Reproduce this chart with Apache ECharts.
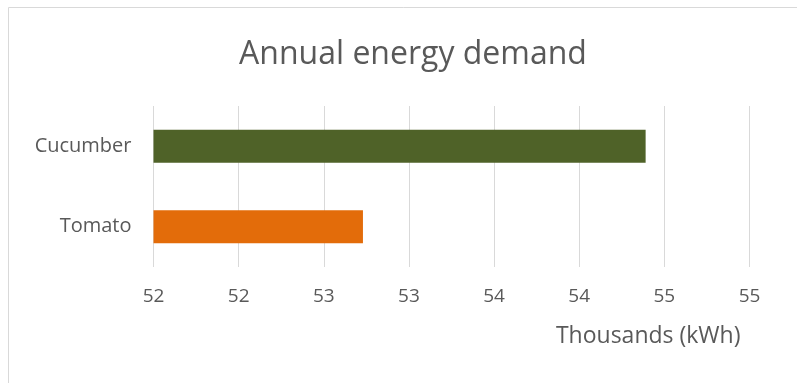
<!DOCTYPE html>
<html>
<head>
<meta charset="utf-8">
<script src="https://cdn.jsdelivr.net/npm/echarts@6/dist/echarts.min.js"></script>
<style>
  html, body { margin: 0; padding: 0; background: #fff; }
  #chart { width: 797px; height: 383px; }
</style>
</head>
<body>
<div id="chart"></div>
<script>
// categories bottom-up, the way the value axis reads them
var crops = ['Tomato', 'Cucumber']
var demand = [52.73, 54.39] // thousands of kWh
var barColors = ['#E36C0A', '#4F6228']
var axisMin = 51.5
var axisMax = 55
var axisStep = 0.5

var chart = echarts.init(document.getElementById('chart'))
var font = 'Open Sans'

chart.setOption({
  animation: false,
  textStyle: { fontFamily: font },
  title: {
    text: 'Annual energy demand',
    left: 408,
    top: 34,
    textAlign: 'center',
    textStyle: { fontSize: 32, fontWeight: 'normal', color: '#595959', fontFamily: font }
  },
  graphic: [
    {
      type: 'rect',
      shape: { x: 8.5, y: 7.5, width: 820, height: 420 },
      style: { fill: 'none', stroke: '#d9d9d9', lineWidth: 1 },
      silent: true
    }
  ],
  grid: { left: 153.5, right: 47.5, top: 106, bottom: 116 },
  xAxis: {
    type: 'value',
    min: axisMin,
    max: axisMax,
    interval: axisStep,
    name: 'Thousands (kWh)',
    nameLocation: 'end',
    nameGap: -9,
    nameTextStyle: {
      align: 'right',
      verticalAlign: 'top',
      padding: [58, 0, 0, 0],
      fontSize: 23,
      color: '#595959'
    },
    axisLine: { show: false },
    axisTick: { show: false },
    axisLabel: {
      margin: 20,
      fontSize: 19,
      color: '#595959',
      formatter: function (v) { return Math.round(v) }
    },
    splitLine: { lineStyle: { color: '#d9d9d9', width: 1 } }
  },
  yAxis: {
    type: 'category',
    data: crops,
    axisLine: { show: false },
    axisTick: { show: false },
    axisLabel: { margin: 22, fontSize: 20, color: '#595959' }
  },
  series: [
    {
      type: 'bar',
      barWidth: 33,
      data: demand.map(function (v, i) {
        return { value: v, itemStyle: { color: barColors[i] } }
      })
    }
  ]
})
</script>
</body>
</html>
